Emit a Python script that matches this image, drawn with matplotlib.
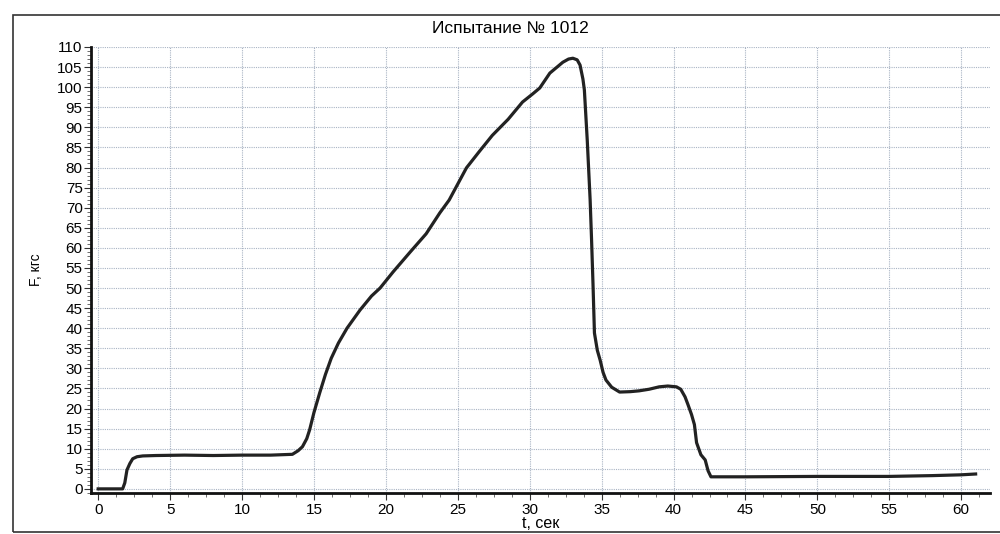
import matplotlib.pyplot as plt
from matplotlib.ticker import MultipleLocator
from matplotlib.patches import Rectangle

plt.rcParams['font.family'] = ['Liberation Sans', 'DejaVu Sans']

# Values
t = [0.0, 1.0, 1.7, 1.85, 2.0, 2.2, 2.4, 2.7, 3.1, 4.0, 6.0, 8.0, 10.0, 12.0, 13.5,
     13.9, 14.2, 14.5, 14.7, 15.0, 15.4, 15.8, 16.2, 16.7, 17.3, 18.2, 19.0, 19.6,
     20.5, 21.7, 22.8, 23.75, 24.4, 25.6, 26.5, 27.4, 28.5, 29.5, 30.2, 30.7, 31.4,
     31.9, 32.3, 32.7, 33.0, 33.3, 33.5, 33.7, 33.8, 34.0, 34.2, 34.3, 34.4, 34.5,
     34.7, 34.9, 35.1, 35.3, 35.7, 36.25, 37.0, 37.6, 38.3, 39.0, 39.6, 40.2, 40.5,
     40.8, 41.0, 41.25, 41.45, 41.6, 41.9, 42.2, 42.4, 42.6, 45.0, 50.0, 55.0, 58.0,
     60.0, 61.0]
F = [0.0, 0.0, 0.0, 1.5, 4.7, 6.3, 7.5, 8.0, 8.2, 8.3, 8.4, 8.3, 8.4, 8.4, 8.6,
     9.5, 10.5, 12.5, 14.7, 19.0, 23.9, 28.5, 32.5, 36.3, 40.0, 44.5, 48.0, 50.0,
     54.0, 59.0, 63.5, 68.7, 71.9, 79.9, 84.0, 88.0, 92.0, 96.3, 98.3, 99.8, 103.5,
     105.0, 106.2, 107.0, 107.2, 106.8, 105.5, 102.0, 99.3, 86.8, 72.0, 62.0, 51.0, 38.8,
     34.5, 32.0, 29.0, 27.1, 25.3, 24.1, 24.2, 24.4, 24.8, 25.4, 25.6, 25.4, 24.8,
     22.9, 21.0, 18.5, 16.0, 11.5, 8.5, 7.2, 4.5, 3.0, 3.0, 3.1, 3.1, 3.3,
     3.5, 3.7]

title = 'Испытание № 1012'
xlabel = 't, сек'
ylabel = 'F, кгс'

fig = plt.figure(figsize=(10, 5.34), dpi=100)
ax = fig.add_axes([0.091, 0.077, 0.899, 0.835])

ax.plot(t, F, color='#222222', linewidth=2.3, solid_joinstyle='round')

ax.set_xlim(-0.5, 62)
ax.set_ylim(-1, 110)
ax.xaxis.set_major_locator(MultipleLocator(5))
ax.xaxis.set_minor_locator(MultipleLocator(1.25))
ax.yaxis.set_major_locator(MultipleLocator(5))
ax.yaxis.set_minor_locator(MultipleLocator(1))

ax.grid(True, which='major', color='#a9b4c4', linestyle=(0, (1, 1)), linewidth=0.8)
for side in ['top', 'right']:
    ax.spines[side].set_visible(False)
for side in ['left', 'bottom']:
    ax.spines[side].set_linewidth(2)
    ax.spines[side].set_color('#111111')

ax.tick_params(which='major', length=5, width=0.8, labelsize=11, color='#333333')
ax.tick_params(which='minor', length=3, width=0.6, color='#555555')
ax.tick_params(axis='x', pad=2)
ax.tick_params(axis='y', pad=1)

ax.set_xlabel(xlabel, fontsize=11.5, labelpad=0)
ax.set_ylabel(ylabel, fontsize=10, labelpad=10)
ax.xaxis.set_label_coords(0.5, -0.052)
fig.text(0.51, 0.947, title, ha='center', va='center', fontsize=12.5)

# outer frame of the printed chart
fig.patches.append(Rectangle((0.013, 0.003), 1.1, 0.969, transform=fig.transFigure,
                             fill=False, edgecolor='#333333', linewidth=1.2))

fig.savefig('out.png', dpi=100)
